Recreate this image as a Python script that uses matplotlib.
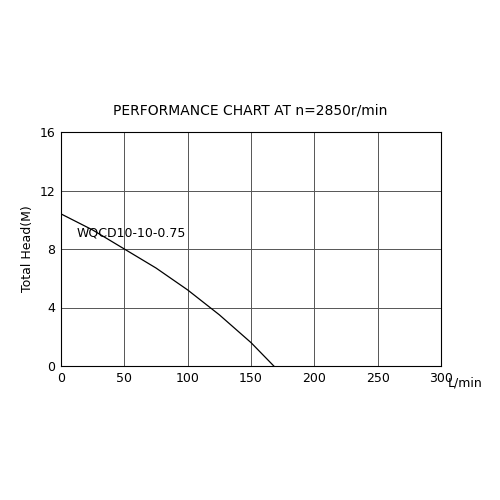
import matplotlib
matplotlib.use("Agg")
import matplotlib.pyplot as plt

flow = [0, 25, 50, 75, 100, 125, 150, 168]
head = [10.4, 9.3, 8.0, 6.7, 5.2, 3.5, 1.6, 0.0]
x_ticks = [0, 50, 100, 150, 200, 250, 300]
y_ticks = [0, 4, 8, 12, 16]

fig = plt.figure(figsize=(5, 5), dpi=100)
ax = fig.add_axes([0.122, 0.268, 0.76, 0.468])
ax.plot(flow, head, color="black", linewidth=0.9)
ax.set_xlim(0, 300)
ax.set_ylim(0, 16)
ax.set_xticks(x_ticks)
ax.set_yticks(y_ticks)
ax.grid(True, color="#555555", linewidth=0.7)
ax.tick_params(length=0, labelsize=9, pad=4)
for s in ax.spines.values():
    s.set_linewidth(0.8)
ax.text(305, -0.72, "L/min", fontsize=9, ha="left", va="top")
ax.set_ylabel("Total Head(M)", fontsize=9, labelpad=4)
ax.text(12, 9.1, "WQCD10-10-0.75", fontsize=9, va="center", ha="left")
fig.text(0.5, 0.772, "PERFORMANCE CHART AT n=2850r/min", ha="center", fontsize=10)
fig.savefig("out.png", dpi=100)
